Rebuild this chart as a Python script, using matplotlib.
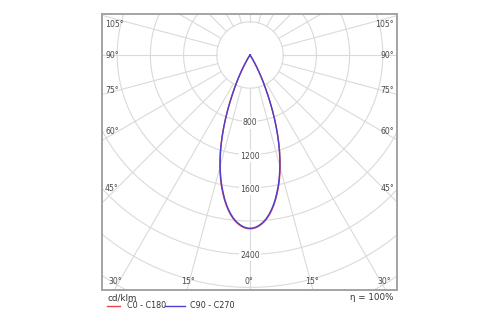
import numpy as np
import matplotlib
matplotlib.use("Agg")
import matplotlib.pyplot as plt

# Luminous intensity distribution (cd/klm) versus angle from nadir (deg)
gamma = list(range(0, 36))
c90_c270 = [2088, 2085, 2074, 2057, 2033, 2005, 1968, 1925, 1876, 1821,
            1760, 1693, 1625, 1552, 1472, 1390, 1302, 1212, 1118, 1020,
            920, 820, 720, 620, 528, 440, 365, 295, 228, 168,
            115, 72, 40, 17, 5, 0]
c0_c180 = [2094, 2091, 2081, 2064, 2041, 2013, 1977, 1935, 1886, 1832,
           1772, 1706, 1638, 1565, 1485, 1402, 1314, 1223, 1128, 1029,
           928, 827, 726, 625, 532, 443, 368, 297, 230, 170,
           116, 73, 41, 17, 5, 0]

ring_values = [400, 800, 1200, 1600, 2000, 2400, 2800, 3200, 3600]
ring_labels = [800, 1200, 1600, 2400]
angle_step = 15

legend_names = ["C0 - C180", "C90 - C270"]
colors = ["#e8474c", "#4a3fd0"]
unit_label = "cd/klm"
efficiency_label = "η = 100%"

W, H = 500, 325
fig = plt.figure(figsize=(W / 100, H / 100), dpi=100)

# frame in pixels and the diagram centre
left, right, top, bottom = 102, 397, 14, 290
cx, cy = 250, 55
k = 400 / 33.2  # cd/klm per pixel

ax = fig.add_axes([left / W, 1 - bottom / H, (right - left) / W, (bottom - top) / H])
ax.set_xlim((left - cx) * k, (right - cx) * k)
ax.set_ylim(-(bottom - cy) * k, (cy - top) * k)
ax.set_aspect("equal")
ax.set_xticks([])
ax.set_yticks([])
for s in ax.spines.values():
    s.set_color("#a3a3a3")
    s.set_linewidth(1.4)

grid_c = "#dadada"
t = np.linspace(0, 2 * np.pi, 400)
for r in ring_values:
    ax.plot(r * np.cos(t), r * np.sin(t), color=grid_c, lw=0.8, zorder=1)

r_hub = ring_values[0]
r_far = ring_values[-1] * 1.2
for a in range(0, 360, angle_step):
    th = np.radians(a)
    ax.plot([r_hub * np.sin(th), r_far * np.sin(th)],
            [-r_hub * np.cos(th), -r_far * np.cos(th)],
            color=grid_c, lw=0.8, zorder=1)

txt_c = "#4a4a4a"
fs = 5.6
for v in ring_labels:
    ax.text(0, -v - 1.5 * k, str(v), ha="center", va="center", fontsize=fs,
            color=txt_c, zorder=3,
            bbox=dict(boxstyle="square,pad=0.15", fc="white", ec="none"))

# angle labels along the frame
xl, xr = (left - cx) * k, (right - cx) * k
yb, yt = -(bottom - cy) * k, (cy - top) * k
for a in range(0, 106, angle_step):
    th = np.radians(a)
    s, c = np.sin(th), np.cos(th)
    lab = f"{a}°"
    # where the ray leaves the frame
    if c > 0 and (-yb) * s / c <= -xl:
        hx = (-yb) * s / c
        x = np.clip(hx - 1 * k, xl + 11 * k, xr - 11 * k)
        y = yb + 9 * k
        ax.text(x, y, lab, ha="center", va="center", fontsize=fs, color=txt_c, zorder=3)
        if a > 0:
            ax.text(-x, y, lab, ha="center", va="center", fontsize=fs, color=txt_c, zorder=3)
    else:
        hy = -(-xl) * c / s
        y = min(0.9 * hy, yt - 10 * k)
        ax.text(xl + 3 * k, y, lab, ha="left", va="center", fontsize=fs, color=txt_c, zorder=3)
        ax.text(xr - 3 * k, y, lab, ha="right", va="center", fontsize=fs, color=txt_c, zorder=3)

# intensity curves, mirrored about the nadir
g = np.radians(np.array(gamma, dtype=float))
for vals, col in zip([c0_c180, c90_c270], colors):
    I = np.array(vals, dtype=float)
    ang = np.concatenate([-g[::-1], g[1:]])
    ii = np.concatenate([I[::-1], I[1:]])
    ax.plot(ii * np.sin(ang), -ii * np.cos(ang), color=col, lw=1.0, zorder=4,
            solid_joinstyle="round")

# legend and annotations below the frame
fig.text(107 / W, 1 - 298 / H, unit_label, ha="left", va="center", fontsize=6.3, color="#333333")
fig.text(393 / W, 1 - 297 / H, efficiency_label, ha="right", va="center", fontsize=6.3, color="#333333")
ly = 1 - 306 / H
fig.add_artist(plt.Line2D([107 / W, 120 / W], [ly, ly], color=colors[0], lw=1.0))
fig.text(127 / W, ly, legend_names[0], ha="left", va="center", fontsize=5.8, color="#333333")
fig.add_artist(plt.Line2D([165 / W, 185 / W], [ly, ly], color=colors[1], lw=1.0))
fig.text(190 / W, ly, legend_names[1], ha="left", va="center", fontsize=5.8, color="#333333")

fig.savefig("out.png", dpi=100, facecolor="white")
